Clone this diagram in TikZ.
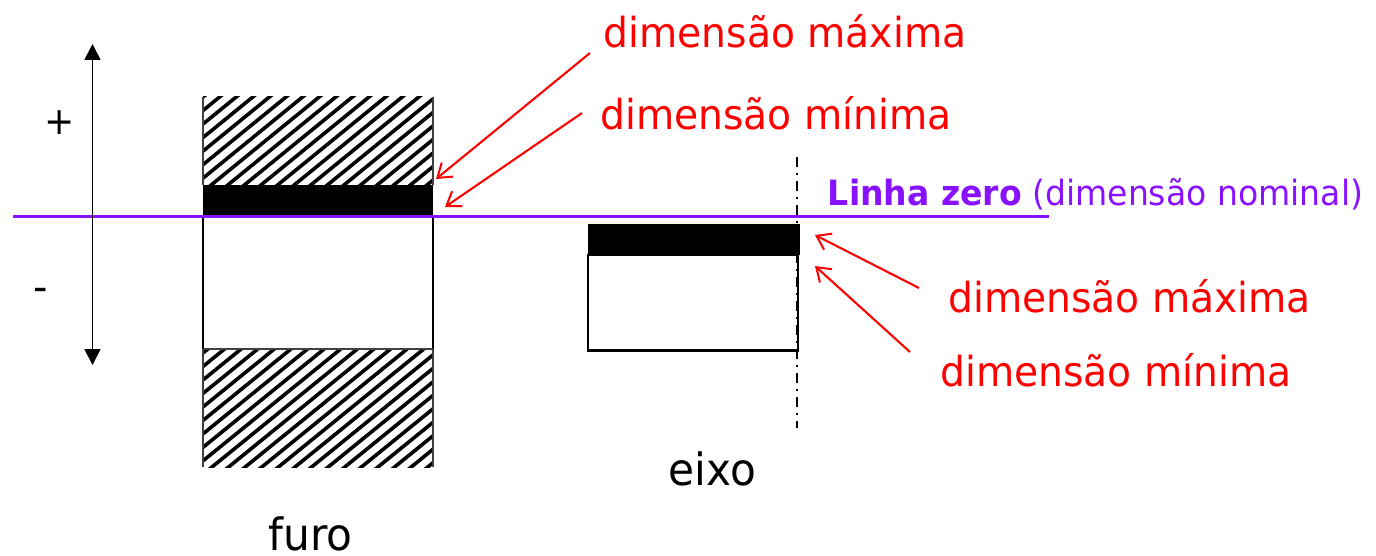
\documentclass[tikz,border=0pt]{standalone}
\usepackage{fontspec}
\setmainfont[FakeStretch=0.95]{DejaVu Sans}
\usetikzlibrary{arrows.meta}
\definecolor{zero}{RGB}{136,17,255}
\tikzset{
  lbl/.style={inner sep=0pt,anchor=base,font=\fontsize{41.3}{41.3}\selectfont},
  redlbl/.style={lbl,text=red},
  blacklbl/.style={lbl,text=black,font=\fontsize{44.5}{44.5}\selectfont},
  call/.style={red,line width=2.1pt,-{Straight Barb[length=13pt,width=18pt,line width=2pt]}},
  part/.style={draw=black,line width=2.4pt,fill=white},
  hatchline/.style={black,line width=3.6pt}
}
\begin{document}
\begin{tikzpicture}[x=1pt,y=-1pt]
\useasboundingbox (0,0) rectangle (1376,556);
% furo
\begin{scope}
\clip (203,97) rectangle (433,185);
\foreach \i in {0,...,24}{\draw[hatchline] (60+16.6*\i,200) -- +(200,-163);}
\end{scope}
\begin{scope}
\clip (203,349) rectangle (433,467);
\foreach \i in {0,...,25}{\draw[hatchline] (30+16.6*\i,480) -- +(250,-203);}
\end{scope}
\draw[black!75,line width=1.6pt] (203,97) -- (203,185) (433,97) -- (433,185) (203,349) -- (203,467) (433,349) -- (433,467);
\draw[part,fill=none] (203,216) -- (203,349) (433,216) -- (433,349);
\draw[black!75,line width=1.6pt] (203,349) -- (433,349);
\fill[black] (203,185) rectangle (433,216);
% eixo
\draw[part] (588,255) rectangle (798,350.5);
\fill[black] (588,224) rectangle (800,255);
\draw[black,line width=2.2pt,dash pattern=on 10pt off 6pt on 2pt off 6pt] (797,157) -- (797,428);
% zero line
\coordinate (zl) at (13,216.5);
\coordinate (zr) at (1049,216.5);
\draw[zero,line width=3.2pt] (zl) -- (zr);
% axis
\coordinate (at) at (92.5,44);
\coordinate (ab) at (92.5,365);
\draw[black,line width=1.8pt,{Triangle[length=16pt,width=16pt]}-{Triangle[length=16pt,width=16pt]}] (at) -- (ab);
\node[lbl,font=\fontsize{38}{38}\selectfont] (plus) at (59.5,134.5) {+};
\node[lbl,font=\fontsize{42}{42}\selectfont] (minus) at (41,301) {-};
% labels
\node[redlbl] (a) at (785,48) {dimensão máxima};
\node[redlbl] (b) at (776,130) {dimensão mínima};
\node[redlbl] (c) at (1129.5,312) {dimensão máxima};
\node[redlbl] (d) at (1116,386) {dimensão mínima};
\node[blacklbl] (eixo) at (712.5,485) {eixo};
\node[blacklbl] (furo) at (310.5,550) {furo};
\node[inner sep=0pt,anchor=base,text=zero,font=\fontsize{34.8}{34.8}\selectfont] (z) at (1095.5,206) {\textbf{Linha zero} (dimensão nominal)};
% callouts
\coordinate (a0) at (590,53); \coordinate (a1) at (436,179);
\coordinate (b0) at (582,113); \coordinate (b1) at (445,207);
\coordinate (c0) at (919,288); \coordinate (c1) at (815,235);
\coordinate (d0) at (910,352); \coordinate (d1) at (815,266);
\draw[call] (a0) -- (a1);
\draw[call] (b0) -- (b1);
\draw[call] (c0) -- (c1);
\draw[call] (d0) -- (d1);
\end{tikzpicture}
\end{document}
